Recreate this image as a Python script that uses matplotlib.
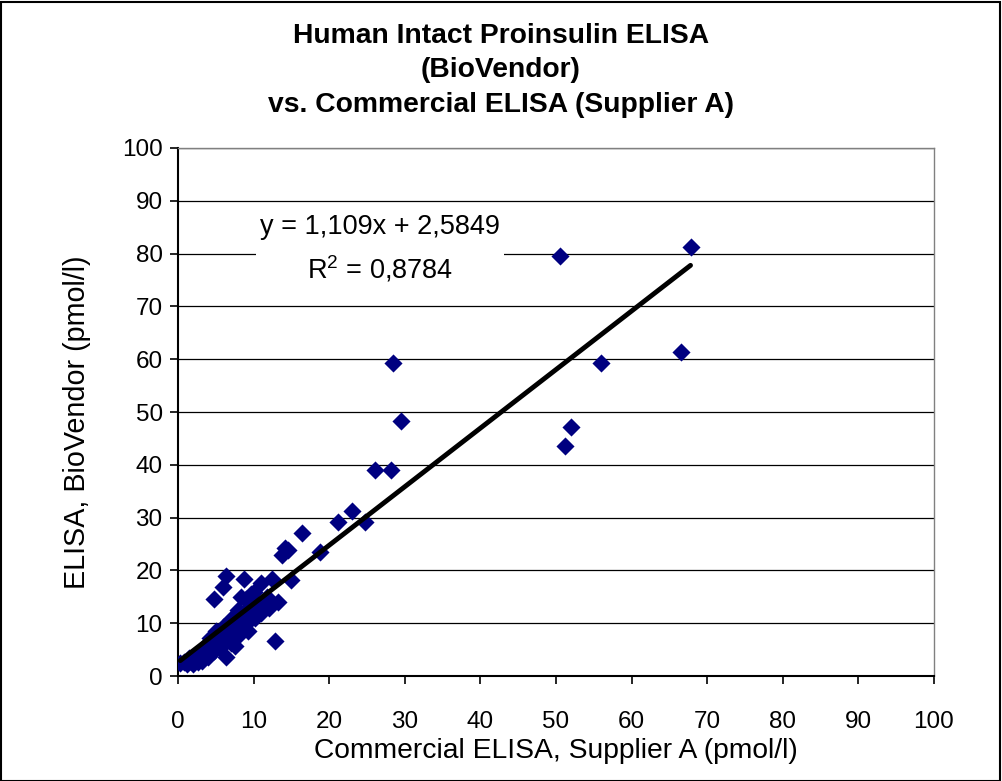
import matplotlib.pyplot as plt
import matplotlib.patches as patches
import numpy as np

plt.rcParams['font.family'] = ['Liberation Sans', 'DejaVu Sans']

# Supplier A (x) vs BioVendor (y), pmol/l
supplier_a = [67.8, 50.5, 66.5, 56.0, 52.0, 51.2, 29.5, 28.5, 26.0, 28.2,
              24.8, 23.0, 21.2, 18.8, 16.4, 14.6, 13.8, 15.0, 12.9, 12.4,
              13.2, 11.0, 8.7, 6.4, 6.0, 4.8, 8.4, 9.6, 14.2,
              0.3, 0.8, 1.2, 1.6, 2.0, 2.3, 2.7, 3.0, 3.2, 3.5,
              3.8, 4.0, 4.2, 4.5, 4.8, 5.0, 5.3, 5.5, 5.8, 6.0,
              6.3, 6.5, 6.8, 7.0, 7.3, 7.6, 7.8, 8.0, 8.2, 8.5,
              8.8, 9.0, 9.2, 9.5, 9.8, 10.2, 10.5, 11.0, 11.5, 12.0,
              9.0, 8.0, 7.0, 6.0, 5.0, 4.2, 3.6, 2.6, 1.4, 10.0, 11.8]
biovendor = [81.2, 79.5, 61.3, 59.2, 47.1, 43.6, 48.3, 59.3, 39.0, 39.0,
             29.1, 31.3, 29.2, 23.4, 27.1, 23.9, 22.9, 18.2, 6.6, 18.4,
             14.1, 17.6, 18.3, 19.0, 16.8, 14.5, 15.0, 15.6, 24.3,
             2.4, 2.6, 2.2, 2.8, 2.3, 3.0, 2.6, 3.4, 2.9, 3.8,
             4.4, 3.6, 5.0, 5.6, 4.8, 6.2, 7.0, 5.4, 8.0, 6.5,
             3.6, 7.6, 8.6, 6.2, 9.2, 5.6, 7.4, 10.0, 8.4, 11.6,
             9.6, 12.6, 8.6, 10.6, 12.2, 11.0, 13.4, 12.0, 13.6, 12.8,
             14.6, 12.6, 10.8, 9.2, 8.6, 7.2, 5.6, 4.2, 3.4, 16.0, 15.0]

slope = 1.109
intercept = 2.5849
r2 = 0.8784

fig = plt.figure(figsize=(10.02, 7.81), dpi=100)
ax = fig.add_axes([0.1776, 0.1344, 0.7545, 0.6761])

xs = np.array(supplier_a)
ax.scatter(xs, biovendor, marker='D', s=85, color='#000080', zorder=3, linewidths=0)

# linear trendline
xl = np.array([xs.min(), xs.max()])
ax.plot(xl, slope * xl + intercept, color='black', lw=3.5, zorder=4, solid_capstyle='round')

ax.set_xlim(0, 100)
ax.set_ylim(0, 100)
ax.set_xticks(range(0, 101, 10))
ax.set_yticks(range(0, 101, 10))
ax.grid(axis='y', color='black', lw=0.9)
ax.set_axisbelow(True)
ax.tick_params(labelsize=17.5, direction='out', length=6, width=1.2, pad=5)
ax.tick_params(axis='x', pad=19)
for s in ['top', 'right']:
    ax.spines[s].set_color('#808080')
    ax.spines[s].set_linewidth(1)
for s in ['left', 'bottom']:
    ax.spines[s].set_linewidth(1.5)

ax.set_xlabel('Commercial ELISA, Supplier A (pmol/l)', fontsize=20.3, labelpad=4)
fig.text(0.0773, 0.459, 'ELISA, BioVendor (pmol/l)', rotation=90, ha='center', va='center',
         fontsize=20.7)

fig.text(0.5, 0.910, 'Human Intact Proinsulin ELISA\n(BioVendor)\nvs. Commercial ELISA (Supplier A)',
         ha='center', va='center', fontsize=20.3, fontweight='bold', linespacing=1.42)

eq = 'y = 1,109x + 2,5849\n$\\mathregular{R^2}$ = 0,8784'
ax.text(26.7, 80.9, eq, ha='center', va='center', fontsize=19.5, linespacing=1.56,
        bbox=dict(facecolor='white', edgecolor='none', pad=3), zorder=5)

fig.patches.append(patches.Rectangle((0.001, 0.0), 0.997, 0.998, transform=fig.transFigure,
                                     fill=False, edgecolor='black', lw=1.5))

fig.savefig('out.png', dpi=100)
